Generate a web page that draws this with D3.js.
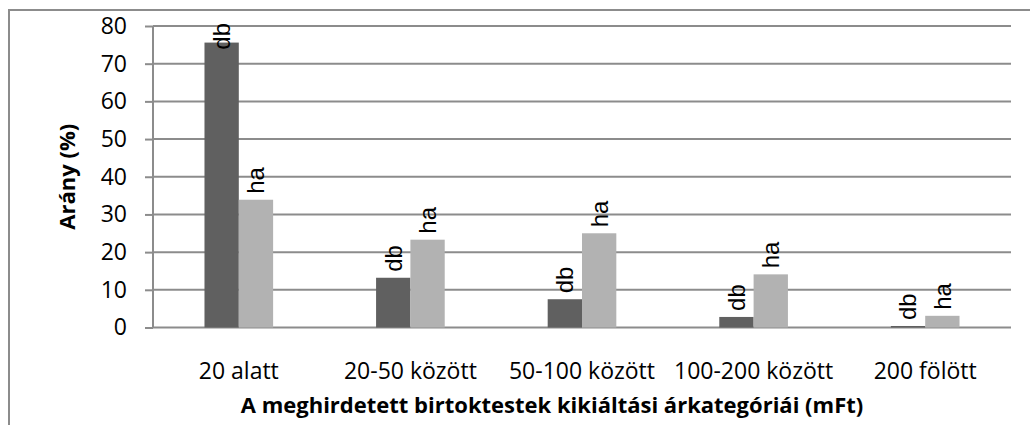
<!DOCTYPE html>
<html>
<head>
<meta charset="utf-8">
<script src="https://cdn.jsdelivr.net/npm/d3@7"></script>
<style>
  body { margin: 0; background: #fff; }
  svg { display: block; }
</style>
</head>
<body>
<div id="chart"></div>
<script>
const categories = ["20 alatt", "20-50 között", "50-100 között", "100-200 között", "200 fölött"];
const seriesNames = ["db", "ha"];
const dbValues = [75.6, 13.2, 7.5, 2.8, 0.4];
const haValues = [33.9, 23.3, 25.0, 14.1, 3.1];
const yTicks = [0, 10, 20, 30, 40, 50, 60, 70, 80];

const width = 1030;
const height = 425;
const margin = { top: 26, right: 19, bottom: 97.5, left: 153 };
const innerW = width - margin.left - margin.right;
const innerH = height - margin.top - margin.bottom;
const gridColor = "#8c8c8c";
const colors = { db: "#606060", ha: "#b2b2b2" };

const rows = categories.map((c, i) => ({ cat: c, db: dbValues[i], ha: haValues[i] }));

const svg = d3.select("#chart").append("svg")
    .attr("width", width)
    .attr("height", height);

// outer chart frame (cut off at right and bottom)
svg.append("path")
    .attr("d", "M9," + height + " V10 H" + width)
    .attr("fill", "none")
    .attr("stroke", gridColor)
    .attr("stroke-width", 2);

const g = svg.append("g").attr("transform", "translate(" + margin.left + "," + margin.top + ")");

const x0 = d3.scaleBand().domain(categories).range([0, innerW]).padding(0);
const x1 = d3.scaleBand().domain(seriesNames)
    .range([x0.bandwidth() * 0.3, x0.bandwidth() * 0.7]).padding(0);
const y = d3.scaleLinear().domain([0, 80]).range([innerH, 0]);

// gridlines + y axis
const yAxis = g.append("g")
    .call(d3.axisLeft(y).tickValues(yTicks).tickSize(8).tickPadding(18));
yAxis.select(".domain").attr("stroke", gridColor).attr("stroke-width", 2)
    .attr("d", "M0," + innerH + "V0");
yAxis.selectAll(".tick line").attr("stroke", gridColor).attr("stroke-width", 2);
yAxis.selectAll(".tick text")
    .attr("font-family", "'Open Sans', sans-serif")
    .attr("font-size", 23)
    .attr("fill", "#000");

g.append("g").selectAll("line")
    .data(yTicks)
    .enter()
    .append("line")
    .attr("x1", 0)
    .attr("x2", innerW)
    .attr("y1", d => y(d))
    .attr("y2", d => y(d))
    .attr("stroke", gridColor)
    .attr("stroke-width", 2);

// bars
const groups = g.selectAll(".cat")
    .data(rows)
    .enter()
    .append("g")
    .attr("class", "cat")
    .attr("transform", d => "translate(" + x0(d.cat) + ",0)");

groups.selectAll("rect")
    .data(d => seriesNames.map(s => ({ s: s, v: d[s] })))
    .enter()
    .append("rect")
    .attr("x", d => x1(d.s))
    .attr("width", x1.bandwidth())
    .attr("y", d => y(d.v))
    .attr("height", d => innerH - y(d.v))
    .attr("fill", d => colors[d.s]);

// rotated data labels
groups.selectAll("text.lbl")
    .data(d => seriesNames.map(s => ({ s: s, v: d[s] })))
    .enter()
    .append("text")
    .attr("class", "lbl")
    .attr("font-family", "'Liberation Sans', Arial, sans-serif")
    .attr("font-size", 24)
    .attr("fill", "#000")
    .attr("dy", "0.35em")
    .text(d => d.s)
    .each(function (d) {
        const len = this.getComputedTextLength();
        const start = Math.max(y(d.v) - 6, len - 3);
        const cx = x1(d.s) + x1.bandwidth() / 2;
        d3.select(this).attr("transform", "translate(" + cx + "," + start + ") rotate(-90)");
    });

// category labels
g.append("g").selectAll("text")
    .data(categories)
    .enter()
    .append("text")
    .attr("x", d => x0(d) + x0.bandwidth() / 2)
    .attr("y", innerH + 51)
    .attr("text-anchor", "middle")
    .attr("font-family", "'Open Sans', sans-serif")
    .attr("font-size", 23)
    .attr("fill", "#000")
    .text(d => d);

// axis titles
svg.append("text")
    .attr("x", 552)
    .attr("y", 413)
    .attr("text-anchor", "middle")
    .attr("font-family", "'Open Sans', sans-serif")
    .attr("font-weight", "bold")
    .attr("font-size", 22)
    .text("A meghirdetett birtoktestek kikiáltási árkategóriái (mFt)");

svg.append("text")
    .attr("transform", "translate(75," + (margin.top + innerH / 2) + ") rotate(-90)")
    .attr("text-anchor", "middle")
    .attr("font-family", "'Open Sans', sans-serif")
    .attr("font-weight", "bold")
    .attr("font-size", 22)
    .text("Arány (%)");
</script>
</body>
</html>
